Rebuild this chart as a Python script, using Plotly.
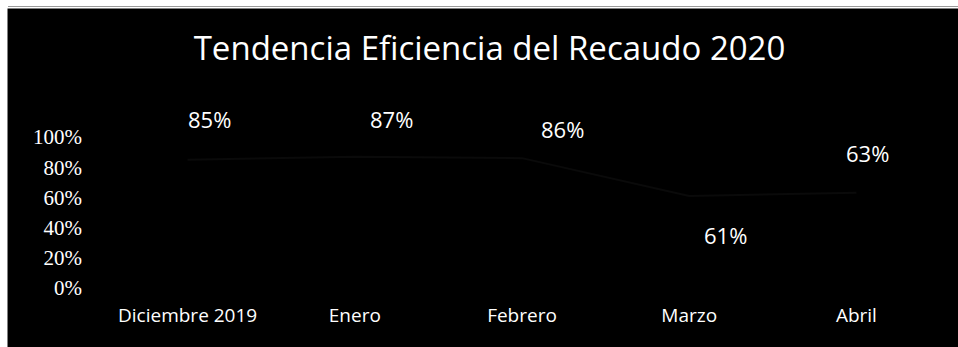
import plotly.graph_objects as go

# Data
months = ["Diciembre 2019", "Enero", "Febrero", "Marzo", "Abril"]
efficiency = [0.85, 0.87, 0.86, 0.61, 0.63]
value_labels = ["85%", "87%", "86%", "61%", "63%"]
y_ticks = [0, 0.2, 0.4, 0.6, 0.8, 1.0]
y_tick_text = ["0%", "20%", "40%", "60%", "80%", "100%"]

# Label placement offsets (pixels) relative to each point
label_dx = [22, 37, 40, 36, 11]
label_dy = [41, 38, 29, -39, 40]

W, H = 958, 347
ML, MR, MT, MB = 104, 18, 137, 59
plot_w = W - ML - MR
plot_h = H - MT - MB

fig = go.Figure()
fig.add_trace(go.Scatter(
    x=months, y=efficiency, mode="lines",
    line=dict(color="#0a0a0a", width=2),
    hoverinfo="skip", showlegend=False,
))

for m, v, t, dx, dy in zip(months, efficiency, value_labels, label_dx, label_dy):
    fig.add_annotation(
        x=m, y=v, text=t, showarrow=False,
        xshift=dx, yshift=dy,
        font=dict(family="Open Sans", size=22, color="white"),
    )

def px_to_paper_x(px):
    return (px - ML) / plot_w

def px_to_paper_y(py):
    return (H - MB - py) / plot_h

# White scan margins along the top and left edges
fig.add_shape(type="rect", xref="paper", yref="paper",
              x0=px_to_paper_x(0), x1=px_to_paper_x(W),
              y0=px_to_paper_y(8.5), y1=px_to_paper_y(0),
              fillcolor="white", line_width=0, layer="above")
fig.add_shape(type="rect", xref="paper", yref="paper",
              x0=px_to_paper_x(0), x1=px_to_paper_x(7.5),
              y0=px_to_paper_y(H), y1=px_to_paper_y(0),
              fillcolor="white", line_width=0, layer="above")
fig.add_shape(type="line", xref="paper", yref="paper",
              x0=px_to_paper_x(8), x1=px_to_paper_x(W),
              y0=px_to_paper_y(6.5), y1=px_to_paper_y(6.5),
              line=dict(color="#9a9a9a", width=1), layer="above")

fig.update_layout(
    width=W, height=H,
    margin=dict(l=ML, r=MR, t=MT, b=MB),
    paper_bgcolor="black",
    plot_bgcolor="black",
    title=dict(
        text="Tendencia Eficiencia del Recaudo 2020",
        x=0.511, xref="container", xanchor="center",
        y=1 - 48 / H, yref="container", yanchor="middle",
        font=dict(family="Open Sans", size=33, color="white"),
    ),
    xaxis=dict(
        type="category", range=[-0.5, 4.5],
        showgrid=False, zeroline=False, showline=False,
        tickfont=dict(family="Open Sans", size=19, color="white"),
        ticks="", ticklabelstandoff=14,
    ),
    yaxis=dict(
        range=[0, 1.0],
        tickvals=y_ticks, ticktext=y_tick_text,
        showgrid=False, zeroline=False, showline=False,
        tickfont=dict(family="Liberation Serif", size=21, color="white"),
        ticks="", ticklabelstandoff=21,
    ),
    showlegend=False,
)

fig.write_html("out.html")
